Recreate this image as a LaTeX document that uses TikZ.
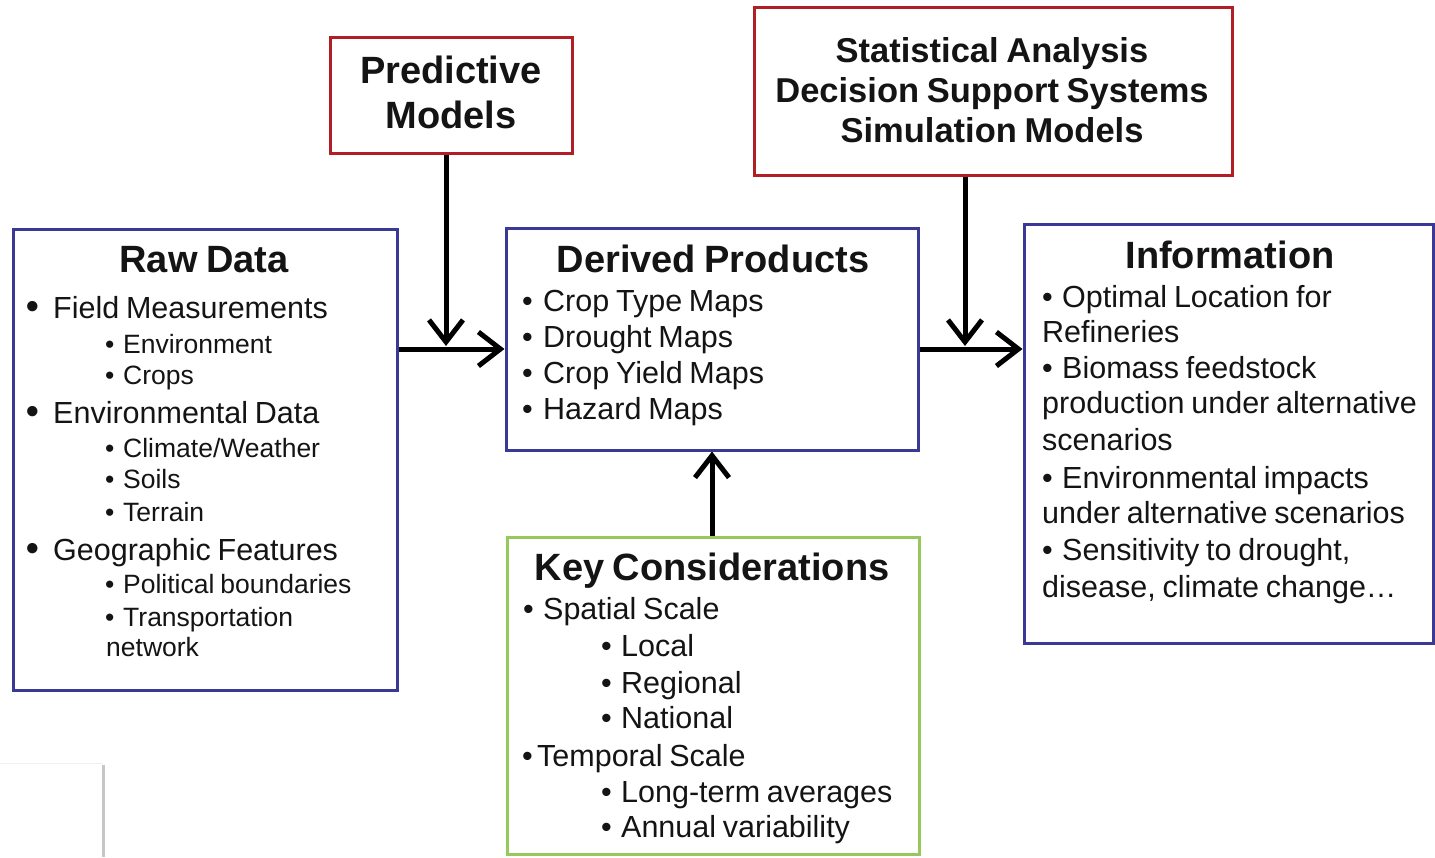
\documentclass[tikz,border=0pt]{standalone}
\usepackage{fontspec}
\setmainfont[WordSpace=0.8]{Liberation Sans}
\usetikzlibrary{arrows.meta}
\definecolor{boxblue}{RGB}{58,58,150}
\definecolor{boxred}{RGB}{178,30,38}
\definecolor{boxgreen}{RGB}{150,200,92}
\definecolor{ink}{RGB}{20,20,20}
\newcommand\bl[1]{\makebox[#1pt][l]{•}}
\newcommand\bigbl[1]{\makebox[#1pt][l]{\fontsize{36}{36}\selectfont\bfseries •}}
\tikzset{
  bluebox/.style={draw=boxblue, line width=3pt, fill=white, inner sep=0pt},
  redbox/.style={draw=boxred, line width=3pt, fill=white, inner sep=0pt},
  greenbox/.style={draw=boxgreen, line width=3pt, fill=white, inner sep=0pt},
  ttl/.style={font=\fontsize{38}{40}\selectfont\bfseries, text=ink, anchor=base, inner sep=0pt},
  stt/.style={font=\fontsize{34.5}{36}\selectfont\bfseries, text=ink, anchor=base, inner sep=0pt},
  body/.style={font=\fontsize{30.5}{32}\selectfont, text=ink, anchor=base west, inner sep=0pt},
  subt/.style={font=\fontsize{26.5}{28}\selectfont, text=ink, anchor=base west, inner sep=0pt},
  arr/.style={line width=5pt, -{Straight Barb[length=22pt, width=34pt, line width=5pt]}, black}
}
\begin{document}
\begin{tikzpicture}[x=1pt, y=-1pt]
\useasboundingbox[fill=white] (0,0) rectangle (1435,857);
% faint screenshot edge, bottom left
\draw[gray!12, line width=1pt] (0,763) -- (103,763);
\draw[gray!45, line width=2.5pt] (103.5,765) -- (103.5,857);

% boxes
\node[bluebox, minimum width=384pt, minimum height=460.5pt] (raw) at (205,459.75) {};
\node[redbox, minimum width=242pt, minimum height=116pt] (pred) at (451,95) {};
\node[redbox, minimum width=478pt, minimum height=168pt] (stat) at (993,91) {};
\node[bluebox, minimum width=412pt, minimum height=222pt] (der) at (712,339) {};
\node[bluebox, minimum width=409pt, minimum height=419pt] (info) at (1228.5,433.5) {};
\node[greenbox, minimum width=412pt, minimum height=317pt] (key) at (713,695.5) {};

% connectors
\coordinate (j1) at (446,346);
\coordinate (j2) at (965,346);
\coordinate (h1) at (446,349);
\coordinate (h2) at (965,349);
\draw[arr] (raw.east |- h1) -- (der.west |- h1);
\draw[arr] (der.east |- h2) -- (info.west |- h2);
\draw[arr] (pred.south -| j1) -- (j1);
\draw[arr] (stat.south -| j2) -- (j2);
\draw[arr] (key.north -| der.south) -- (der.south);

% Predictive models
\node[ttl] (p1) at (451,83) {Predictive};
\node[ttl] (p2) at (451,128) {Models};

% Statistical box
\node[stt] (s1) at (992,62) {Statistical Analysis};
\node[stt] (s2) at (992,102) {Decision Support Systems};
\node[stt] (s3) at (992,142) {Simulation Models};

% Raw data
\node[ttl] (rt) at (204,272) {Raw Data};
\node[body] (r1) at (26,318) {\bigbl{27}Field Measurements};
\node[subt] (r2) at (105,353) {\bl{18}Environment};
\node[subt] (r3) at (105,384) {\bl{18}Crops};
\node[body] (r4) at (26,423) {\bigbl{27}Environmental Data};
\node[subt] (r5) at (105,457) {\bl{18}Climate/Weather};
\node[subt] (r6) at (105,488) {\bl{18}Soils};
\node[subt] (r7) at (105,521) {\bl{18}Terrain};
\node[body] (r8) at (26,560) {\bigbl{27}Geographic Features};
\node[subt] (r9) at (105,593) {\bl{18}Political boundaries};
\node[subt] (r10) at (105,626) {\bl{18}Transportation};
\node[subt] (r11) at (106,656) {network};

% Derived products
\node[ttl] (dt) at (713,272) {Derived Products};
\node[body] (d1) at (522,311) {\bl{21}Crop Type Maps};
\node[body] (d2) at (522,347) {\bl{21}Drought Maps};
\node[body] (d3) at (522,383) {\bl{21}Crop Yield Maps};
\node[body] (d4) at (522,419) {\bl{21}Hazard Maps};

% Information
\node[ttl] (it) at (1230,268) {Information};
\node[body] (i1) at (1042,307) {\bl{20}Optimal Location for};
\node[body] (i2) at (1042,342) {Refineries};
\node[body] (i3) at (1042,378) {\bl{20}Biomass feedstock};
\node[body] (i4) at (1042,413) {production under alternative};
\node[body] (i5) at (1042,450) {scenarios};
\node[body] (i6) at (1042,488) {\bl{20}Environmental impacts};
\node[body] (i7) at (1042,523) {under alternative scenarios};
\node[body] (i8) at (1042,560) {\bl{20}Sensitivity to drought,};
\node[body] (i9) at (1042,597) {disease, climate change…};

% Key considerations
\node[ttl] (kt) at (712,580) {Key Considerations};
\node[body] (k1) at (523,619) {\bl{20}Spatial Scale};
\node[body] (k2) at (601,656) {\bl{20}Local};
\node[body] (k3) at (601,693) {\bl{20}Regional};
\node[body] (k4) at (601,728) {\bl{20}National};
\node[body] (k5) at (522,766) {\bl{15}Temporal Scale};
\node[body] (k6) at (601,802) {\bl{20}Long-term averages};
\node[body] (k7) at (601,837) {\bl{20}Annual variability};
\end{tikzpicture}
\end{document}
